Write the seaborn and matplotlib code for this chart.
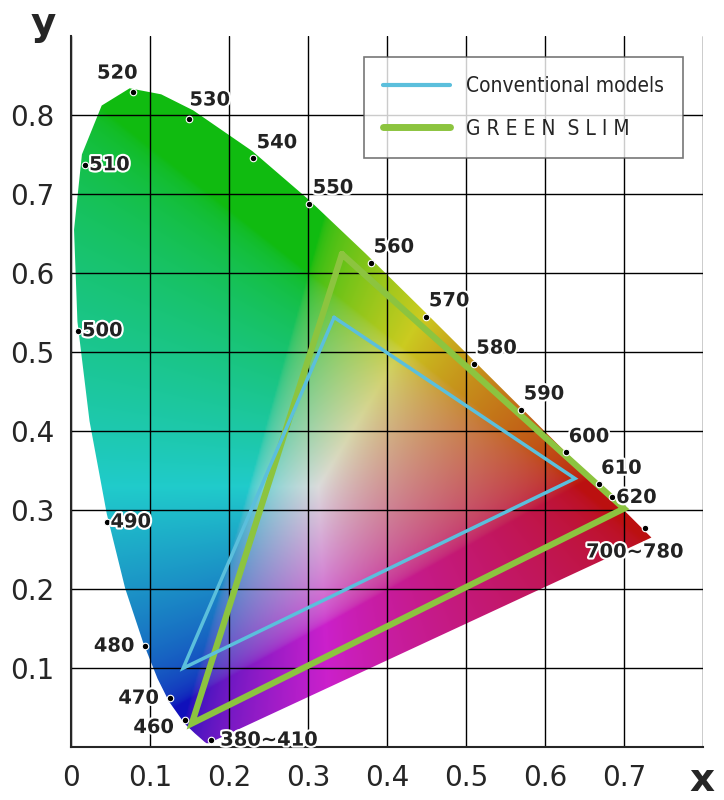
import numpy as np
import pandas as pd
import seaborn as sns
import matplotlib
matplotlib.use("Agg")
import matplotlib.pyplot as plt
import matplotlib.patheffects as pe
from matplotlib.patches import Polygon
from matplotlib.lines import Line2D

# CIE 1931 spectral locus (nm, x, y)
locus_nm = [380, 420, 430, 440, 450, 460, 470, 475, 480, 485, 490, 495, 500, 505, 510,
            515, 520, 525, 530, 540, 550, 560, 570, 580, 590, 600, 610, 620, 630, 640, 700]
locus_x = [0.1741, 0.1714, 0.1689, 0.1644, 0.1566, 0.1440, 0.1241, 0.1096, 0.0913, 0.0687,
           0.0454, 0.0235, 0.0082, 0.0039, 0.0139, 0.0389, 0.0743, 0.1142, 0.1547, 0.2296,
           0.3016, 0.3731, 0.4441, 0.5125, 0.5752, 0.6270, 0.6658, 0.6915, 0.7079, 0.7190, 0.7347]
locus_y = [0.0050, 0.0051, 0.0069, 0.0109, 0.0177, 0.0297, 0.0578, 0.0868, 0.1327, 0.2007,
           0.2950, 0.4127, 0.5384, 0.6548, 0.7502, 0.8120, 0.8338, 0.8262, 0.8059, 0.7543,
           0.6923, 0.6245, 0.5547, 0.4866, 0.4242, 0.3725, 0.3340, 0.3083, 0.2920, 0.2809, 0.2653]

# labelled wavelength dots
label_text = ["520", "530", "540", "550", "560", "570", "580", "590", "600", "610", "620",
              "700~780", "510", "500", "490", "480", "470", "460", "380~410"]
label_x = [0.078, 0.150, 0.230, 0.301, 0.380, 0.450, 0.510, 0.570, 0.627, 0.668, 0.685,
           0.727, 0.018, 0.009, 0.045, 0.094, 0.125, 0.144, 0.177]
label_y = [0.829, 0.795, 0.745, 0.688, 0.613, 0.545, 0.485, 0.427, 0.373, 0.333, 0.316,
           0.277, 0.737, 0.527, 0.285, 0.128, 0.062, 0.035, 0.009]
label_dx = [-0.045, 0.0, 0.005, 0.005, 0.003, 0.003, 0.003, 0.003, 0.003, 0.003, 0.005,
            -0.075, 0.005, 0.005, 0.005, -0.065, -0.065, -0.065, 0.012]
label_dy = [0.012, 0.012, 0.008, 0.008, 0.008, 0.008, 0.008, 0.008, 0.008, 0.008, -0.0,
            -0.03, 0.0, 0.0, 0.0, 0.0, 0.0, -0.01, 0.0]

# gamut triangles
conv_x = [0.333, 0.638, 0.142]
conv_y = [0.544, 0.340, 0.100]
slim_x = [0.343, 0.700, 0.153]
slim_y = [0.624, 0.302, 0.030]

sns.set_style("white")
fig = plt.figure(figsize=(7.24, 8), dpi=100)
ax = fig.add_axes([0.098, 0.066, 0.873, 0.889])

# colour field from xy -> sRGB
gx, gy = np.meshgrid(np.linspace(0, 0.8, 400), np.linspace(0, 0.9, 450))
gy_safe = np.clip(gy, 1e-4, None)
X = gx / gy_safe
Z = (1 - gx - gy) / gy_safe
Y = np.ones_like(X)
M = np.array([[3.2406, -1.5372, -0.4986], [-0.9689, 1.8758, 0.0415], [0.0557, -0.2040, 1.0570]])
rgb = np.einsum("ij,jkl->kli", M, np.stack([X, Y, Z]))
rgb = np.clip(rgb, 0, None)
rgb = rgb / rgb.max(axis=2, keepdims=True).clip(1e-6)
rgb = np.where(rgb <= 0.0031308, 12.92 * rgb, 1.055 * rgb ** (1 / 2.4) - 0.055)
# soften towards the printed look of the reference
lum = rgb.mean(axis=2, keepdims=True)
rgb = (0.78 * rgb + 0.22 * lum) * 0.86
img = ax.imshow(np.clip(rgb, 0, 1), origin="lower", extent=[0, 0.8, 0, 0.9],
                interpolation="bilinear", aspect="auto", zorder=1)
poly = Polygon(np.column_stack([locus_x, locus_y]), closed=True, facecolor="none",
               edgecolor="none", transform=ax.transData)
ax.add_patch(poly)
img.set_clip_path(poly)

ax.set_xlim(0, 0.8)
ax.set_ylim(0, 0.9)
ax.set_xticks(np.arange(0, 0.81, 0.1))
ax.set_yticks(np.arange(0, 0.81, 0.1))
ax.grid(True, color="black", linewidth=1.0, zorder=2)
ax.set_axisbelow(False)
ax.set_xticklabels(["0", "0.1", "0.2", "0.3", "0.4", "0.5", "0.6", "0.7", ""], fontsize=20)
ax.set_yticklabels(["", "0.1", "0.2", "0.3", "0.4", "0.5", "0.6", "0.7", "0.8"], fontsize=20)
ax.tick_params(length=0, pad=12)
for s in ["top", "right"]:
    ax.spines[s].set_visible(False)
for s in ["left", "bottom"]:
    ax.spines[s].set_linewidth(1.5)
    ax.spines[s].set_zorder(5)

# triangles
ax.plot(slim_x + slim_x[:1], slim_y + slim_y[:1], color="#8cc43f", linewidth=4.5,
        solid_joinstyle="miter", zorder=3)
ax.plot(conv_x + conv_x[:1], conv_y + conv_y[:1], color="#5bbfdc", linewidth=2.5,
        solid_joinstyle="miter", zorder=4)

# wavelength dots and labels
dots = pd.DataFrame({"x": label_x, "y": label_y})
sns.scatterplot(data=dots, x="x", y="y", ax=ax, color="black", s=22, edgecolor="white",
                linewidth=0.8, zorder=6)
for t, x, y, dx, dy in zip(label_text, label_x, label_y, label_dx, label_dy):
    ax.text(x + dx, y + dy, t, fontsize=14, fontweight="bold", color="#222222",
            va="bottom" if dy > 0 else "center", ha="left", zorder=7,
            path_effects=[pe.withStroke(linewidth=3, foreground="white")])

ax.set_xlabel("")
ax.set_ylabel("")
fig.text(0.06, 0.97, "y", fontsize=28, fontweight="bold", ha="center", va="center")
fig.text(0.97, 0.025, "x", fontsize=28, fontweight="bold", ha="center", va="center")

handles = [Line2D([0], [0], color="#5bbfdc", linewidth=3),
           Line2D([0], [0], color="#8cc43f", linewidth=5)]
leg = ax.legend(handles, ["Conventional models", "G R E E N  S L I M"], loc="upper right",
                bbox_to_anchor=(0.985, 0.985), frameon=True, fancybox=False,
                edgecolor="#555555", handlelength=3.2, borderpad=0.9, labelspacing=1.1,
                prop={"family": "DejaVu Sans", "stretch": "condensed", "size": 15})
leg.get_frame().set_linewidth(1.2)
leg.set_zorder(10)

fig.savefig("out.png", dpi=100)
